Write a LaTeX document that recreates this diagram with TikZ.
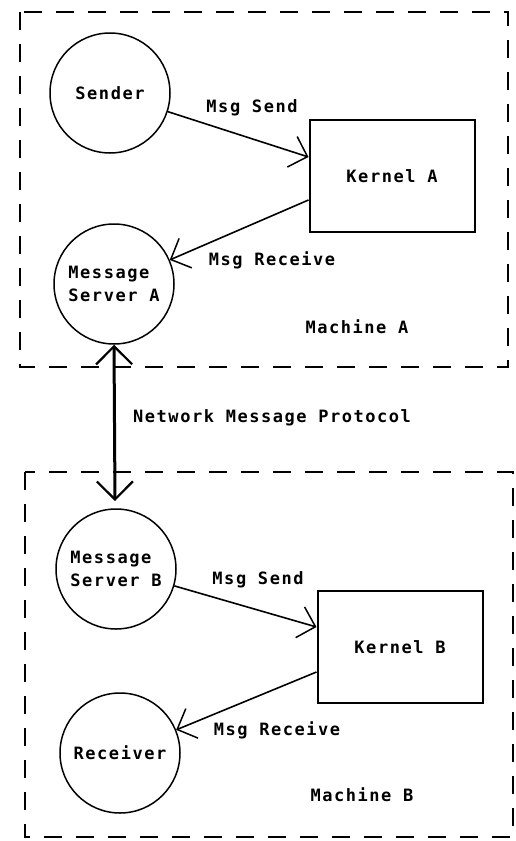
\documentclass[tikz,border=0pt]{standalone}
\usepackage{fontspec}
\newfontfamily\lblfont[LetterSpace=9]{DejaVu Sans Mono}
\usetikzlibrary{arrows.meta}
\begin{document}
\begin{tikzpicture}[x=1pt,y=-1pt,
  txt/.style={font=\lblfont\bfseries\fontsize{17}{23}\selectfont, inner sep=0pt},
  proc/.style={circle, draw, line width=1.5pt, minimum size=120pt, inner sep=0pt, txt, align=left},
  kbox/.style={draw, line width=2pt, minimum width=165pt, minimum height=112pt, txt},
  msg/.style={line width=1.6pt, -{Straight Barb[length=16pt,width=32pt,line width=1.5pt]}},
  net/.style={line width=3pt, {Straight Barb[length=18pt,width=36pt,line width=2.2pt]}-{Straight Barb[length=18pt,width=36pt,line width=2.2pt]}},
  machine/.style={draw, dash pattern=on 18pt off 14pt, line width=2.2pt}]
\useasboundingbox (0,0) rectangle (516,841);
% machine boundaries
\draw[machine] (20,12) rectangle (508,367);
\draw[machine] (25,472) rectangle (513,837);
% machine A
\node[proc] (sender) at (110,93) {Sender};
\node[kbox] (kA) at (392,176) {Kernel A};
\node[proc] (sA) at (114,284) {Message\\Server A};
\node[txt] (mA) at (357,327) {Machine A};
\node[txt] (lsA) at (252,108) {Msg Send};
\node[txt] (lrA) at (272,260) {Msg Receive};
\draw[msg] (sender) -- ([yshift=19pt]kA.west);
\draw[msg] ([yshift=-24pt]kA.west) -- (sA);
% machine B
\node[proc] (sB) at (116,569) {Message\\Server B};
\node[kbox] (kB) at (400,647) {Kernel B};
\node[proc] (recv) at (120,753) {Receiver};
\node[txt] (mB) at (362,795) {Machine B};
\node[txt] (lsB) at (258,580) {Msg Send};
\node[txt] (lrB) at (277,730) {Msg Receive};
\draw[msg] (sB) -- ([yshift=20pt]kB.west);
\draw[msg] ([yshift=-25pt]kB.west) -- (recv);
% network
\coordinate (netB) at (115,501);
\draw[net] (sA.south) -- (netB);
\node[txt, anchor=west] (nmp) at (133,418) {Network Message Protocol};
\end{tikzpicture}
\end{document}
